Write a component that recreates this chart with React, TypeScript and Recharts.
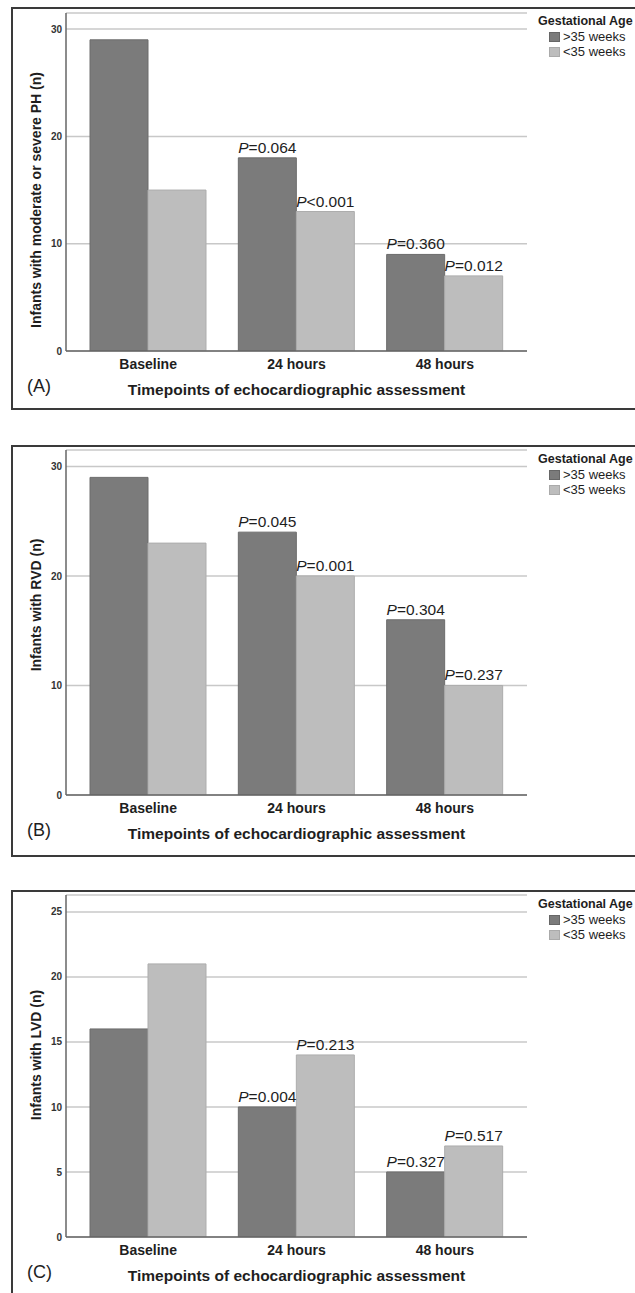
import React from 'react';
import { BarChart, Bar, XAxis, YAxis, CartesianGrid, Legend, LabelList } from 'recharts';

const FONT = "'Liberation Sans', Arial, Helvetica, sans-serif";

// ---- data ----
const categories = ['Baseline', '24 hours', '48 hours'];
const seriesNames = ['>35 weeks', '<35 weeks'];
const legendTitle = 'Gestational Age';
const xTitle = 'Timepoints of echocardiographic assessment';

const phOver35 = [29, 18, 9];
const phUnder35 = [15, 13, 7];
const phPOver35 = ['', '=0.064', '=0.360'];
const phPUnder35 = ['', '<0.001', '=0.012'];
const phTicks = [0, 10, 20, 30];

const rvdOver35 = [29, 24, 16];
const rvdUnder35 = [23, 20, 10];
const rvdPOver35 = ['', '=0.045', '=0.304'];
const rvdPUnder35 = ['', '=0.001', '=0.237'];
const rvdTicks = [0, 10, 20, 30];

const lvdOver35 = [16, 10, 5];
const lvdUnder35 = [21, 14, 7];
const lvdPOver35 = ['', '=0.004', '=0.327'];
const lvdPUnder35 = ['', '=0.213', '=0.517'];
const lvdTicks = [0, 5, 10, 15, 20, 25];

const buildRows = (over: number[], under: number[], pOver: string[], pUnder: string[]) =>
  categories.map((cat, i) => ({ cat, over: over[i], under: under[i], pOver: pOver[i], pUnder: pUnder[i] }));

const DARK = '#7b7b7b';
const LIGHT = '#bdbdbd';
const SERIES_COLORS = [DARK, LIGHT];
const SERIES_BORDERS = ['#666', '#aaa'];

const PLabel = (props: any) => {
  const vb = props.viewBox || {};
  const x = Number(vb.x ?? props.x);
  const y = Number(vb.y ?? props.y);
  const w = Number(vb.width ?? props.width);
  const t = props.value;
  if (!t) return null;
  return (
    <text x={x + w / 2} y={y - 5} textAnchor="middle" fontSize={15.5} fill="#1e1e1e" fontFamily={FONT}>
      <tspan fontStyle="italic">P</tspan>
      <tspan>{t}</tspan>
    </text>
  );
};

const LegendBox = (props: any) => {
  const payload = props.payload || [];
  const items = seriesNames.map((n, i) => {
    const found = payload.find((p: any) => p.value === n);
    return { value: n, color: (found && found.color) || SERIES_COLORS[i] };
  });
  return (
    <div style={{ fontFamily: FONT, color: '#1e1e1e', whiteSpace: 'nowrap', lineHeight: '15px' }}>
      <div style={{ fontWeight: 'bold', fontSize: 12.5 }}>{legendTitle}</div>
      {items.map((p: any, i: number) => (
        <div key={i} style={{ display: 'flex', alignItems: 'center', fontSize: 13, marginLeft: 11 }}>
          <span
            style={{
              display: 'inline-block',
              width: 11,
              height: 10,
              background: p.color,
              border: '1px solid ' + SERIES_BORDERS[i],
              boxSizing: 'border-box',
              marginRight: 3,
            }}
          />
          <span>{p.value}</span>
        </div>
      ))}
    </div>
  );
};

type PanelProps = {
  top: number;
  plotTop: number;
  plotBottom: number;
  frameHeight: number;
  domainMax: number;
  ticks: number[];
  rows: any[];
  yLabel: string;
  yLabelCenter: number;
  letter: string;
  legendTop: number;
};

const CHART_W = 635;
const PLOT_LEFT = 66;
const PLOT_RIGHT = 527;
const X_AXIS_H = 60;

const Panel = (p: PanelProps) => {
  const height = p.plotBottom + X_AXIS_H;
  const plotCenterX = (PLOT_LEFT + PLOT_RIGHT) / 2;
  return (
    <div style={{ position: 'absolute', left: 0, top: p.top, width: CHART_W, height }}>
      <div
        style={{
          position: 'absolute',
          left: 11,
          top: 7,
          width: 700,
          height: p.frameHeight,
          border: '2px solid #3a3a3a',
          boxSizing: 'border-box',
        }}
      />
      <BarChart
        width={CHART_W}
        height={height}
        data={p.rows}
        margin={{ top: p.plotTop, right: CHART_W - PLOT_RIGHT, left: 0, bottom: 0 }}
        barGap={0}
        barSize={58}
        style={{ position: 'absolute', left: 0, top: 0 }}
      >
        <CartesianGrid vertical={false} stroke="#c8c8c8" strokeWidth={1.5} />
        <XAxis
          dataKey="cat"
          height={X_AXIS_H}
          padding={{ left: 8, right: 8 }}
          axisLine={{ stroke: '#666', strokeWidth: 1.5 }}
          tickLine={false}
          tickSize={0}
          tickMargin={8}
          tick={{ fontSize: 14, fontWeight: 'bold', fill: '#1e1e1e', fontFamily: FONT }}
          label={() => (
            <g>
              <text x={plotCenterX} y={p.plotBottom + 44} textAnchor="middle" fontSize={15.5} fontWeight="bold" fill="#1e1e1e" fontFamily={FONT}>
                {xTitle}
              </text>
              <text x={27} y={p.plotBottom + 41} textAnchor="start" fontSize={18} fill="#1e1e1e" fontFamily={FONT}>
                {p.letter}
              </text>
            </g>
          )}
        />
        <YAxis
          width={PLOT_LEFT}
          domain={[0, p.domainMax]}
          ticks={p.ticks}
          allowDataOverflow
          axisLine={{ stroke: '#666', strokeWidth: 1.5 }}
          tickLine={false}
          tickSize={0}
          tickMargin={4}
          tick={{ fontSize: 10, fontWeight: 'bold', fill: '#333', fontFamily: FONT }}
          label={() => (
            <text
              x={36}
              y={p.yLabelCenter}
              dy="0.35em"
              transform={`rotate(-90, 36, ${p.yLabelCenter})`}
              textAnchor="middle"
              fontSize={14}
              fontWeight="bold"
              fill="#1e1e1e"
              fontFamily={FONT}
            >
              {p.yLabel}
            </text>
          )}
        />
        <Legend
          layout="vertical"
          align="center"
          verticalAlign="middle"
          content={<LegendBox />}
          wrapperStyle={{ left: 538, top: p.legendTop, width: 'auto' }}
        />
        <Bar dataKey="over" name={seriesNames[0]} fill={DARK} stroke="#6c6c6c" strokeWidth={1} isAnimationActive={false}>
          <LabelList dataKey="pOver" content={PLabel} />
        </Bar>
        <Bar dataKey="under" name={seriesNames[1]} fill={LIGHT} stroke="#adadad" strokeWidth={1} isAnimationActive={false}>
          <LabelList dataKey="pUnder" content={PLabel} />
        </Bar>
      </BarChart>
    </div>
  );
};

export default function App() {
  return (
    <div
      style={{
        position: 'absolute',
        left: 0,
        top: 0,
        width: 635,
        height: 1293,
        overflow: 'hidden',
        background: '#fff',
        fontFamily: FONT,
      }}
    >
      <Panel
        top={0}
        plotTop={13}
        plotBottom={351}
        frameHeight={403}
        domainMax={31.5}
        ticks={phTicks}
        rows={buildRows(phOver35, phUnder35, phPOver35, phPUnder35)}
        yLabel="Infants with moderate or severe PH (n)"
        yLabelCenter={200}
        letter="(A)"
        legendTop={14}
      />
      <Panel
        top={438}
        plotTop={12}
        plotBottom={357}
        frameHeight={412}
        domainMax={31.5}
        ticks={rvdTicks}
        rows={buildRows(rvdOver35, rvdUnder35, rvdPOver35, rvdPUnder35)}
        yLabel="Infants with RVD (n)"
        yLabelCenter={167}
        letter="(B)"
        legendTop={14}
      />
      <Panel
        top={883}
        plotTop={12}
        plotBottom={354}
        frameHeight={420}
        domainMax={26.3}
        ticks={lvdTicks}
        rows={buildRows(lvdOver35, lvdUnder35, lvdPOver35, lvdPUnder35)}
        yLabel="Infants with LVD (n)"
        yLabelCenter={172}
        letter="(C)"
        legendTop={14}
      />
    </div>
  );
}
